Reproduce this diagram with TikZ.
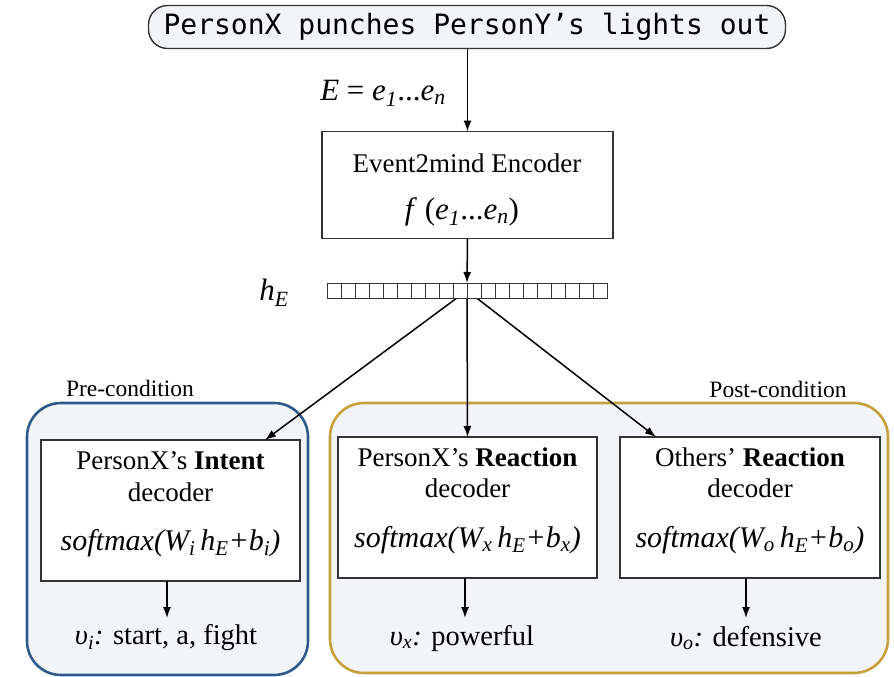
\documentclass[tikz,border=0pt]{standalone}
\usepackage{fontspec}
\setmainfont{Liberation Serif}
\newfontfamily\monofnt{DejaVu Sans Mono}
\usetikzlibrary{arrows.meta}
\definecolor{boxfill}{HTML}{F3F4F7}
\definecolor{preblue}{HTML}{2F5A8C}
\definecolor{postgold}{HTML}{C6A03A}
\definecolor{boxline}{HTML}{333333}
\newcommand{\mysb}[1]{\textsubscript{#1}}
\begin{document}
\begin{tikzpicture}[x=1pt,y=-1pt,
  every node/.style={inner sep=0pt,outer sep=0pt,font=\fontsize{27}{32}\selectfont},
  eventbox/.style={draw=boxline,line width=1.4pt,fill=boxfill,rounded corners=19pt,minimum width=637pt,minimum height=43pt},
  dbox/.style={draw=boxline,line width=1.4pt,fill=white},
  container/.style={line width=2.6pt,fill=boxfill,rounded corners=34pt},
  cell/.style={draw=boxline,line width=1pt,fill=white,minimum width=14pt,minimum height=15pt},
  conn/.style={line width=1.5pt,-{Latex[length=11pt,width=8pt]}},
  lbl/.style={font=\fontsize{23.5}{28}\selectfont},
  mathlbl/.style={font=\fontsize{31}{36}\selectfont},
  smx/.style={font=\fontsize{30}{34}\selectfont},
  outl/.style={font=\fontsize{28.5}{33}\selectfont}
]
\useasboundingbox (0,0) rectangle (894,677);
% containers
\node[container,draw=preblue,minimum width=281pt,minimum height=272pt] (pre) at (167.5,539) {};
\node[container,draw=postgold,minimum width=558pt,minimum height=270pt] (post) at (609,538) {};
\node[lbl] (prel) at (130,388) {Pre-condition};
\node[lbl] (postl) at (778,389) {Post-condition};
% event
\node[eventbox] (ev) at (467,27) {};
\node[font=\monofnt\fontsize{28}{32}\selectfont] (evt) at (467,27) {PersonX punches PersonY’s lights out};
\node[mathlbl] (elbl) at (383,93) {\textit{E} = \textit{e\mysb{1}}...\textit{e\mysb{n}}};
% encoder
\node[dbox,minimum width=291pt,minimum height=107pt] (enc) at (467.5,185) {};
\node (enc1) at (467,163) {Event2mind Encoder};
\node[mathlbl] (enc2) at (462,212) {\textit{f} (\textit{e\mysb{1}}...\textit{e\mysb{n}})};
% vector placeholder
\node[minimum width=280pt,minimum height=15pt] (vec) at (467,290.5) {};
\node[mathlbl] (hE) at (274,293) {\textit{h\mysb{E}}};
% decoders
\node[dbox,minimum width=259pt,minimum height=141pt] (dint) at (170.5,510.5) {};
\node (dint1) at (170.5,461) {PersonX’s \textbf{Intent}};
\node (dint2) at (170.5,492) {decoder};
\node[smx] (dint3) at (170.5,543) {\textit{softmax(W\mysb{i}\,h\mysb{E}+b\mysb{i})}};
\node[dbox,minimum width=259pt,minimum height=141pt] (drx) at (467.5,507.5) {};
\node (drx1) at (467.5,457) {PersonX’s \textbf{Reaction}};
\node (drx2) at (467.5,488) {decoder};
\node[smx] (drx3) at (467.5,540) {\textit{softmax(W\mysb{x}\,h\mysb{E}+b\mysb{x})}};
\node[dbox,minimum width=260pt,minimum height=141pt] (dro) at (750,507.5) {};
\node (dro1) at (750,457) {Others’ \textbf{Reaction}};
\node (dro2) at (750,488) {decoder};
\node[smx] (dro3) at (750,540) {\textit{softmax(W\mysb{o}\,h\mysb{E}+b\mysb{o})}};
% outputs
\node[outl] (oint) at (166,638) {\textit{υ\mysb{i}:} start, a, fight};
\node[outl] (orx) at (462,638) {\textit{υ\mysb{x}:} powerful};
\node[outl] (oro) at (746,638) {\textit{υ\mysb{o}:} defensive};
% connectors
\draw[conn] (ev.south -| enc.north) -- (enc.north);
\draw[conn] (enc.south) -- (vec.north);
\coordinate (tint) at (265,440);
\coordinate (toth) at (656,437);
\draw[conn] (vec.center) -- (tint);
\draw[conn] (vec.center) -- (drx.north);
\draw[conn] (vec.center) -- (toth);
\coordinate (aint) at (167,618);
\coordinate (arx) at (465,618);
\coordinate (aro) at (746,618);
\draw[conn] (dint.south -| aint) -- (aint);
\draw[conn] (drx.south -| arx) -- (arx);
\draw[conn] (dro.south -| aro) -- (aro);
% vector cells on top
\foreach \i in {0,...,19} {
  \node[cell] (c\i) at (334+14*\i,290.5) {};
}
\end{tikzpicture}
\end{document}
